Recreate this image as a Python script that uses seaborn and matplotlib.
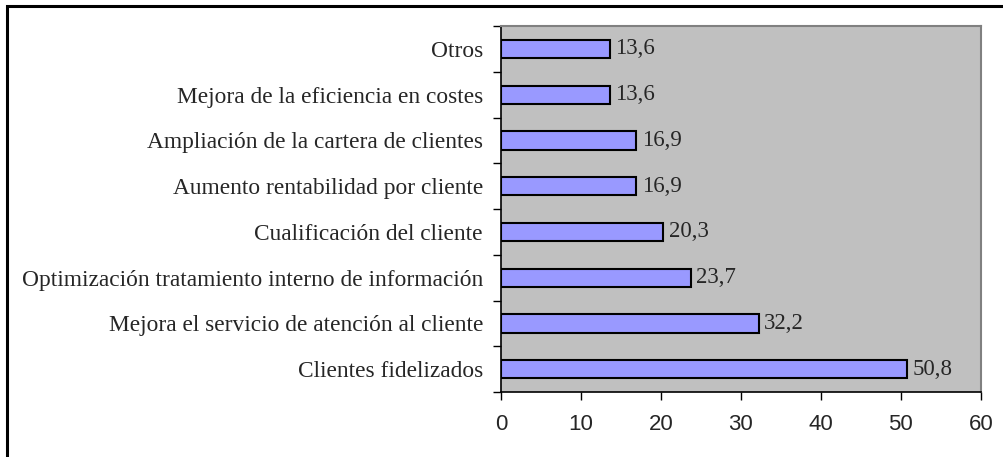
"""
plot.py - Excel-style horizontal bar chart of reasons (percentages).
"""

import matplotlib
matplotlib.use("Agg")
import matplotlib.pyplot as plt
from matplotlib.patches import Rectangle
from matplotlib.ticker import FixedLocator
import pandas as pd
import seaborn as sns

# ---- data ----------------------------------------------------------------
categories = [
    "Otros",
    "Mejora de la eficiencia en costes",
    "Ampliación de la cartera de clientes",
    "Aumento rentabilidad por cliente",
    "Cualificación del cliente",
    "Optimización tratamiento interno de información",
    "Mejora el servicio de atención al cliente",
    "Clientes fidelizados",
]
values = [13.6, 13.6, 16.9, 16.9, 20.3, 23.7, 32.2, 50.8]
x_ticks = [0, 10, 20, 30, 40, 50, 60]

BAR_COLOR = "#9999ff"
PLOT_BG = "#c0c0c0"
SERIF = "Liberation Serif"
SANS = "Liberation Sans"


def main():
    sns.set_style("white")
    df = pd.DataFrame({"motivo": categories, "pct": values})

    fig = plt.figure(figsize=(10.04, 4.57), dpi=100)
    ax = fig.add_axes([0.499, 0.142, 0.478, 0.801])

    sns.barplot(data=df, x="pct", y="motivo", order=categories,
                color=BAR_COLOR, saturation=1, width=0.4,
                edgecolor="black", linewidth=1.5, ax=ax)

    ax.set_facecolor(PLOT_BG)
    ax.set_xlim(0, 60)
    ax.set_ylim(len(categories) - 0.5, -0.5)
    ax.set_xlabel("")
    ax.set_ylabel("")

    # spines: black axes, grey frame on top/right
    for side in ("left", "bottom"):
        ax.spines[side].set_color("black")
        ax.spines[side].set_linewidth(1.2)
    for side in ("top", "right"):
        ax.spines[side].set_visible(True)
        ax.spines[side].set_color("#808080")
        ax.spines[side].set_linewidth(1.5)

    # x ticks
    ax.set_xticks(x_ticks)
    ax.set_xticklabels([str(t) for t in x_ticks], family=SANS, fontsize=16)
    ax.tick_params(axis="x", direction="out", length=5.5, width=1,
                   color="black", pad=10.5, bottom=True)

    # y ticks: labels centred on bars, tick marks between categories
    ax.tick_params(axis="y", which="major", length=0, pad=13)
    for lbl in ax.get_yticklabels():
        lbl.set_family(SERIF)
        lbl.set_fontsize(16.8)
    ax.yaxis.set_minor_locator(
        FixedLocator([i - 0.5 for i in range(len(categories) + 1)]))
    ax.tick_params(axis="y", which="minor", direction="out", length=6,
                   width=1, color="black", left=True)

    # value labels with comma decimals
    ax.bar_label(ax.containers[0],
                 labels=[f"{v:.1f}".replace(".", ",") for v in values],
                 padding=4, family=SERIF, fontsize=16.5)

    # outer chart frame (only top and left visible in the crop)
    fig.add_artist(Rectangle((0.0065, -0.1), 1.2, 0.9865 + 0.1,
                             transform=fig.transFigure, fill=False,
                             edgecolor="black", linewidth=2.2))

    fig.savefig("out.png", dpi=100)
    plt.close(fig)


if __name__ == "__main__":
    main()
